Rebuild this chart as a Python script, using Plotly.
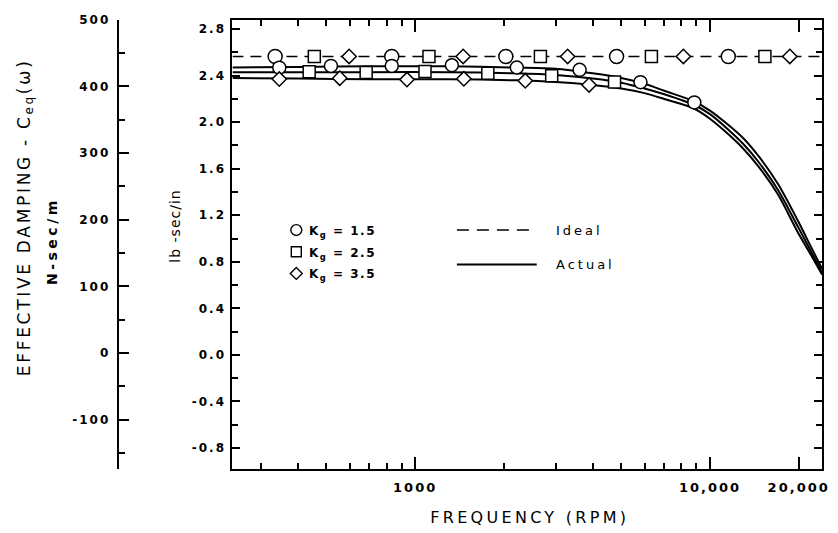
import plotly.graph_objects as go

# ---------------- data ----------------
curve_freq = [240, 400, 700, 1300, 2200, 3000, 4000, 5000, 6000, 7000, 8800,
              10000, 11500, 13000, 14600, 17000, 19900, 22000, 24000]
curve_kg15 = [2.47, 2.475, 2.48, 2.48, 2.47, 2.46, 2.42, 2.38, 2.33, 2.27, 2.18,
              2.10, 1.98, 1.86, 1.71, 1.47, 1.15, 0.93, 0.74]
curve_kg25 = [2.43, 2.43, 2.43, 2.43, 2.42, 2.405, 2.375, 2.34, 2.29, 2.24, 2.15,
              2.07, 1.94, 1.81, 1.66, 1.42, 1.10, 0.89, 0.71]
curve_kg35 = [2.38, 2.375, 2.37, 2.37, 2.36, 2.345, 2.32, 2.29, 2.25, 2.20, 2.12,
              2.03, 1.90, 1.77, 1.62, 1.38, 1.05, 0.86, 0.69]

# measured points on the actual curves
pts_kg15_f = [346, 518, 833, 1332, 2212, 3613, 5812, 8851]
pts_kg15_c = [2.469, 2.484, 2.484, 2.49, 2.47, 2.45, 2.344, 2.17]
pts_kg25_f = [437, 682, 1080, 1764, 2905, 4746]
pts_kg25_c = [2.433, 2.427, 2.435, 2.42, 2.40, 2.345]
pts_kg35_f = [346, 555, 938, 1463, 2363, 3890]
pts_kg35_c = [2.371, 2.378, 2.367, 2.373, 2.356, 2.32]

# ideal damping (same for all Kg)
ideal_value = 2.565
ideal_freq = [240, 24000]
ideal_kg15_f = [335, 833, 2030, 4822, 11540]
ideal_kg25_f = [455, 1114, 2660, 6330, 15360]
ideal_kg35_f = [597, 1455, 3290, 8125, 18660]

x_tickvals = [1000, 10000, 20000]
x_ticktext = ["1000", "10,000", "20,000"]
x_minor = [300, 400, 500, 600, 700, 800, 900,
           2000, 3000, 4000, 5000, 6000, 7000, 8000, 9000]
y_tickvals = [-0.8, -0.4, 0.0, 0.4, 0.8, 1.2, 1.6, 2.0, 2.4, 2.8]
y_ticktext = ["-0.8", "-0.4", "0.0", "0.4", "0.8", "1.2", "1.6", "2.0", "2.4", "2.8"]
si_tickvals = [-100, 0, 100, 200, 300, 400, 500]
si_ticktext = ["-100", "0", "100", "200", "300", "400", "500"]

legend_labels = ["K<sub>g</sub> = 1.5", "K<sub>g</sub> = 2.5", "K<sub>g</sub> = 3.5"]

# ---------------- figure ----------------
W, H = 838, 533
fig = go.Figure()


def px(x):
    return x / W


def py(y):
    return (H - y) / H


LW = 2
mk_line = dict(color="black", width=1.5)

# ideal dashed line
fig.add_trace(go.Scatter(x=ideal_freq, y=[ideal_value] * len(ideal_freq), mode="lines",
                         line=dict(color="black", width=1.6, dash="11px,7px"),
                         showlegend=False))
# actual curves
for c in (curve_kg15, curve_kg25, curve_kg35):
    fig.add_trace(go.Scatter(x=curve_freq, y=c, mode="lines",
                             line=dict(color="black", width=LW, shape="spline", smoothing=0.8),
                             showlegend=False))
# markers on ideal line
for f, sym, sz in ((ideal_kg15_f, "circle", 14), (ideal_kg25_f, "square", 12),
                   (ideal_kg35_f, "diamond", 11)):
    fig.add_trace(go.Scatter(x=f, y=[ideal_value] * len(f), mode="markers",
                             marker=dict(symbol=sym, size=sz, color="white", line=mk_line),
                             showlegend=False))
# markers on actual curves
for f, c, sym, sz in ((pts_kg15_f, pts_kg15_c, "circle", 13),
                      (pts_kg25_f, pts_kg25_c, "square", 12),
                      (pts_kg35_f, pts_kg35_c, "diamond", 11)):
    fig.add_trace(go.Scatter(x=f, y=c, mode="markers",
                             marker=dict(symbol=sym, size=sz, color="white", line=mk_line),
                             showlegend=False))
# dummy trace to create the SI (left) axis
fig.add_trace(go.Scatter(x=[None], y=[None], yaxis="y2", showlegend=False))

tickfont = dict(family="DejaVu Sans", size=12, color="black", weight="bold")

fig.update_layout(
    width=W, height=H,
    margin=dict(l=0, r=0, t=0, b=0),
    paper_bgcolor="white", plot_bgcolor="white",
    showlegend=False,
    xaxis=dict(
        type="log", range=[2.380211, 4.380211],
        domain=[px(233), px(824)],
        showline=True, linecolor="black", linewidth=2, mirror="ticks",
        ticks="inside", ticklen=12, tickwidth=1.8, tickcolor="black",
        tickmode="array", tickvals=x_tickvals, ticktext=x_ticktext,
        tickfont=dict(family="DejaVu Sans", size=13, color="black", weight="bold"),
        ticklabelstandoff=6,
        showgrid=False, zeroline=False,
        minor=dict(tickmode="array", tickvals=x_minor, ticks="inside", ticklen=6,
                   tickwidth=1.8, tickcolor="black", showgrid=False),
    ),
    yaxis=dict(
        range=[-0.98, 2.88],
        domain=[py(468), py(13)],
        showline=True, linecolor="black", linewidth=2, mirror="ticks",
        ticks="inside", ticklen=8, tickwidth=1.8, tickcolor="black",
        tickmode="array", tickvals=y_tickvals, ticktext=y_ticktext,
        tickfont=tickfont, ticklabelstandoff=2,
        showgrid=False, zeroline=False,
        minor=dict(dtick=0.2, tick0=0, ticks="inside", ticklen=6, tickwidth=1.8,
                   tickcolor="black", showgrid=False),
    ),
    yaxis2=dict(
        range=[-174, 500],
        domain=[py(462), py(14)],
        anchor="free", position=px(118), overlaying="y", side="left",
        showline=True, linecolor="black", linewidth=2,
        ticks="inside", ticklen=10, tickwidth=1.8, tickcolor="black",
        tickmode="array", tickvals=si_tickvals, ticktext=si_ticktext,
        tickfont=tickfont, ticklabelstandoff=4,
        showgrid=False, zeroline=False,
        minor=dict(dtick=50, tick0=0, ticks="inside", ticklen=6, tickwidth=1.8,
                   tickcolor="black", showgrid=False),
    ),
)

annotations = [
    dict(text="EFFECTIVE DAMPING - C<sub>eq</sub>(\u03c9)", x=px(25), y=py(213),
         textangle=-90, font=dict(family="DejaVu Sans", size=17, color="black")),
    dict(text="N-sec/m", x=px(52), y=py(237), textangle=-90,
         font=dict(family="DejaVu Sans", size=14, color="black", weight="bold")),
    dict(text="lb -sec/in", x=px(176), y=py(222), textangle=-90,
         font=dict(family="DejaVu Sans", size=14, color="black")),
    dict(text="FREQUENCY (RPM)", x=px(531), y=py(517),
         font=dict(family="DejaVu Sans", size=16, color="black")),
    dict(text="Ideal", x=px(555), y=py(226), xanchor="left", align="left",
         font=dict(family="DejaVu Sans", size=13, color="black")),
    dict(text="Actual", x=px(555), y=py(261), xanchor="left", align="left",
         font=dict(family="DejaVu Sans", size=13, color="black")),
]
for lab, yy in zip(legend_labels, (226, 248, 270)):
    annotations.append(dict(text=lab, x=px(308), y=py(yy + 2), xanchor="left", align="left",
                            font=dict(family="DejaVu Sans", size=12, color="black",
                                      weight="bold")))
for a in annotations:
    a.setdefault("xref", "paper")
    a.setdefault("yref", "paper")
    a.setdefault("showarrow", False)
    a.setdefault("xanchor", "center")
    a.setdefault("yanchor", "middle")
fig.update_layout(annotations=annotations)

# legend symbol samples
shapes = [
    dict(type="line", x0=px(458), x1=px(538), y0=py(226), y1=py(226),
         line=dict(color="black", width=1.6, dash="12px,8px")),
    dict(type="line", x0=px(458), x1=px(538), y0=py(261), y1=py(261),
         line=dict(color="black", width=2)),
    dict(type="circle", x0=px(291.5), x1=px(302.5), y0=py(231.5), y1=py(220.5),
         line=dict(color="black", width=1.4)),
    dict(type="rect", x0=px(292), x1=px(302), y0=py(253), y1=py(243),
         line=dict(color="black", width=1.4)),
    dict(type="path",
         path=f"M {px(297)} {py(264)} L {px(303)} {py(270)} L {px(297)} {py(276)} L {px(291)} {py(270)} Z",
         line=dict(color="black", width=1.4)),
]
for s in shapes:
    s["xref"] = "paper"
    s["yref"] = "paper"
fig.update_layout(shapes=shapes)

# remove the default page margin, widen letter spacing like the original lettering,
# and give the subscript tspans explicit pixel font sizes
post = """
document.body.style.margin = '0';
document.body.style.overflow = 'hidden';
var gd = document.getElementById('{plot_id}');
function sp(sel, v) { gd.querySelectorAll(sel).forEach(function (t) { t.style.letterSpacing = v; }); }
sp('.xtick text', '2px'); sp('.ytick text', '2px'); sp('.y2tick text', '2px');
var ls = ['2.7px', '3.5px', '1px', '3.3px', '3px', '3px', '1.5px', '1.5px', '1.5px'];
ls.forEach(function (v, i) { sp('g.annotation[data-index="' + i + '"] text', v); });
gd.querySelectorAll('tspan').forEach(function (ts) {
  var fs = parseFloat(window.getComputedStyle(ts).fontSize);
  if (fs) { ts.style.fontSize = fs + 'px'; }
});
"""
fig.write_html("out.html", post_script=post, config={"displayModeBar": False})
